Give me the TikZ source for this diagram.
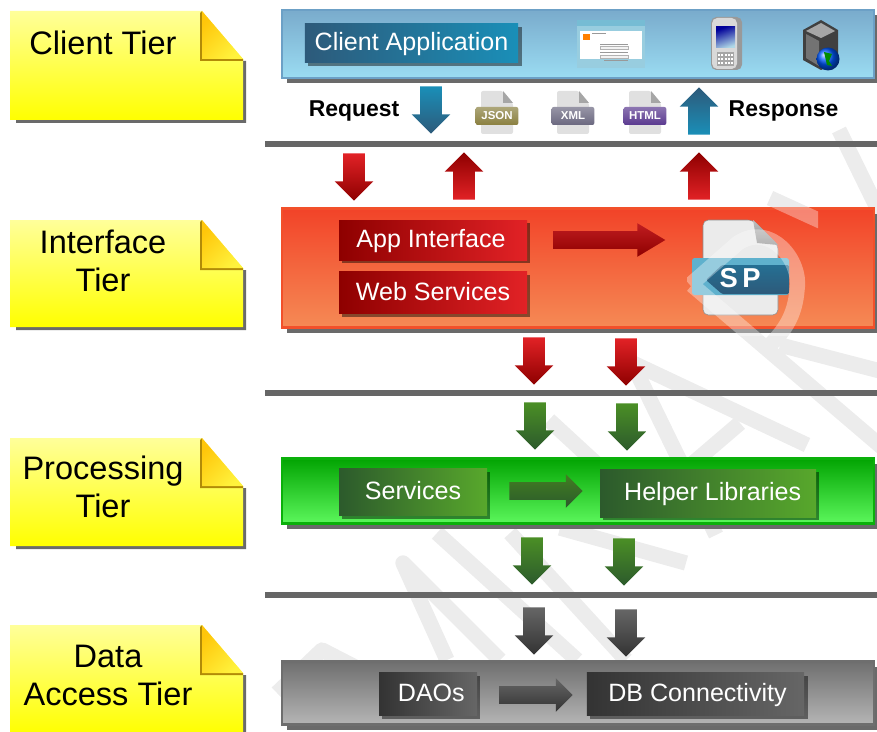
\documentclass[tikz,border=0pt]{standalone}
\usepackage{fontspec}
\setmainfont{Liberation Sans}
\usetikzlibrary{arrows.meta,shapes.arrows,shadows}
\tikzset {>=Stealth}

\definecolor{notelight}{HTML}{FFFF9A}
\definecolor{notemid}{HTML}{FFFF40}
\definecolor{foldgold}{HTML}{FFC60A}
\definecolor{foldpale}{HTML}{FFF23C}
\definecolor{markgray}{HTML}{ECECEC}
\definecolor{rulegray}{HTML}{666666}
\definecolor{shadegray}{HTML}{6A6A6A}
\definecolor{blueA}{HTML}{2D5A7A}
\definecolor{blueB}{HTML}{1A8FB8}
\definecolor{redA}{HTML}{8E0000}
\definecolor{redB}{HTML}{E22226}
\definecolor{greenA}{HTML}{2C5A2C}
\definecolor{greenB}{HTML}{58A82C}
\definecolor{darkA}{HTML}{333333}
\definecolor{darkB}{HTML}{666666}
\definecolor{clienttop}{HTML}{79ABCC}
\definecolor{clientlow}{HTML}{9BDCF2}
\definecolor{clientedge}{HTML}{6CA0C6}
\definecolor{ifacetop}{HTML}{F24328}
\definecolor{ifacelow}{HTML}{F58A55}
\definecolor{ifaceedge}{HTML}{F2502A}
\definecolor{proctop}{HTML}{02A402}
\definecolor{proclow}{HTML}{5CF75C}
\definecolor{procedge}{HTML}{0AB00A}
\definecolor{datatop}{HTML}{6F6F6F}
\definecolor{datalow}{HTML}{B5B5B5}
\definecolor{dataedge}{HTML}{6E6E6E}
\definecolor{jsoncol}{HTML}{8A8040}
\definecolor{xmlcol}{HTML}{6B6880}
\definecolor{htmlcol}{HTML}{5B3A90}

\tikzset{
  notetext/.style={font=\fontsize{24.4}{28.5}\selectfont,align=center,inner sep=0pt},
  tierband/.style={rectangle,draw=#1,line width=2.2pt,inner sep=0pt,
    general shadow={fill=shadegray,shadow xshift=3.8pt,shadow yshift=-4pt}},
  boxnode/.style={rectangle,inner sep=0pt,text=white,text height=16pt,text depth=4.1pt,
    font=\fontsize{18.8}{22}\selectfont,
    general shadow={fill=black,fill opacity=.45,shadow xshift=2.6pt,shadow yshift=-2.6pt}},
  blockdown/.style={single arrow,anchor=tail,shape border rotate=270,inner sep=7.9pt,
    minimum width=28.5pt,minimum height=35.5pt,single arrow head extend=6.4pt},
  blockup/.style={single arrow,anchor=tail,shape border rotate=90,inner sep=7.9pt,
    minimum width=28.5pt,minimum height=35.5pt,single arrow head extend=6.4pt},
  blockright/.style={single arrow,anchor=tail,inner sep=6.4pt,
    minimum width=24.5pt,single arrow head extend=6pt},
  replabel/.style={font=\bfseries\fontsize{17.2}{20}\selectfont,inner sep=0pt},
  filelabel/.style={font=\bfseries\fontsize{8.6}{10}\selectfont,text=white,inner sep=0pt},
  tierrule/.style={rulegray,line width=4.5pt},
  markstroke/.style={line width=11.5pt,line join=round},
}

\newcommand{\tiernote}[4]{
  \begin{scope}[shift={(0,#1)}]
    \fill[shadegray] (243,50) -- (246,50) -- (246,{#2+3}) -- (16,{#2+3}) -- (16,#2) -- (243,#2) -- cycle;
    \shade[top color=notelight,middle color=notemid,bottom color=yellow]
      (10,0) -- (202,0) -- (243,48) -- (243,#2) -- (10,#2) -- cycle;
    \fill[black!30!foldgold] (200,2) -- (202,0) -- (202,48) -- (243,48) -- (243,50) -- (200,50) -- cycle;
    \shade[left color=foldgold,right color=foldpale,shading angle=45]
      (202,0) -- (243,48) -- (202,48) -- cycle;
  \end{scope}
  \node[notetext] (#3) at #4;
}

\newcommand{\fileicon}[4]{
  \fill[black!12,rounded corners=1.5pt] (#1-16,91) -- (#1+6,91) -- (#1+16,103) -- (#1+16,134) -- (#1-16,134) -- cycle;
  \fill[black!35] (#1+6,91) -- (#1+16,103) -- (#1+6,103) -- cycle;
  \node[filelabel,rectangle,rounded corners=1.5pt,top color=#2!70!white,bottom color=#2,
    minimum width=32pt,minimum height=13.5pt] (#3) at (#1,116) {#4};
}

\newcommand{\markstrokes}{
  (839,130) -- (884,222)
  (770,198) -- (884,250)
  (690,285) -- (738,243) .. controls (770,222) and (802,260) .. (797,290) .. controls (795,315) and (785,330) .. (770,345)
  (692,285) -- (884,449)
  (780,345) -- (884,372)
}

\begin{document}
\begin{tikzpicture}[x=0.75pt,y=-0.75pt]
\useasboundingbox (0,0) rectangle (877,731);

\draw[markgray,markstroke] \markstrokes;
\draw[markgray,markstroke] (618,356) -- (807,445);
\draw[markgray,markstroke] (637,373) -- (716,535);
\draw[markgray,markstroke] (740,423) -- (650,500);
\draw[markgray,markstroke] (549,420) -- (600,467);
\draw[markgray,markstroke] (560,528) -- (686,563);
\draw[markgray,markstroke] (437,533) -- (577,660);
\draw[markgray,markstroke] (510,533) -- (626,660);
\draw[markgray,markstroke] (447,660) -- (403,563) -- (500,660);
\draw[markgray,markstroke] (277,693) -- (322,650) -- (357,668);

\tiernote{11}{109}{clientnote}{(103,43) {Client Tier}}
\tiernote{220}{107}{interfacenote}{(103,261) {Interface\\Tier}}
\tiernote{438}{108}{processnote}{(103,487) {Processing\\Tier}}
\tiernote{625}{109}{datanote}{(108,675) {Data\\Access Tier}}

\draw[tierrule] (265,144) -- (877,144);
\draw[tierrule] (265,393) -- (877,393);
\draw[tierrule] (265,595) -- (877,595);

\node[tierband=clientedge,top color=clienttop,bottom color=clientlow,minimum width=444pt,minimum height=51pt] (clientband) at (578,44) {};
\node[tierband=ifaceedge,top color=ifacetop,bottom color=ifacelow,minimum width=444pt,minimum height=89pt] (interfaceband) at (578,268) {};
\node[tierband=procedge,top color=proctop,bottom color=proclow,minimum width=444pt,minimum height=49pt] (processband) at (578,491) {};
\node[tierband=dataedge,top color=datatop,bottom color=datalow,minimum width=444pt,minimum height=47pt] (databand) at (578,693) {};

\node[boxnode,left color=blueA,right color=blueB,minimum width=160pt,minimum height=29pt] (clientapp) at (411.5,43) {Client Application};
\node[boxnode,left color=redA,right color=redB,minimum width=141pt,minimum height=30pt] (appiface) at (433,240) {App Interface\hspace*{3pt}};
\node[boxnode,left color=redA,right color=redB,minimum width=141pt,minimum height=31pt] (webserv) at (433,292.5) {Web Services};
\node[boxnode,left color=greenA,right color=greenB,minimum width=111pt,minimum height=35pt] (services) at (413,492) {Services};
\node[boxnode,left color=greenA,right color=greenB,minimum width=162pt,minimum height=36pt] (helperlibs) at (708,493) {\hspace*{7pt}Helper Libraries};
\node[boxnode,left color=darkA,right color=darkB,minimum width=73.5pt,minimum height=32pt] (daos) at (428,694) {\hspace*{5pt}DAOs};
\node[boxnode,left color=darkA,right color=darkB,minimum width=163pt,minimum height=32pt] (dbconn) at (695.5,694) {\hspace*{3pt}DB Connectivity};

\node[replabel] (request) at (354,111) {Request};
\node[replabel] (response) at (783.5,111) {Response};

\node[blockdown,top color=blueB,bottom color=blueA] (reqarrow) at (431,86) {};
\node[blockup,top color=blueA,bottom color=blueB] (resparrow) at (699,135) {};
\fileicon{497}{jsoncol}{jsonlabel}{JSON}
\fileicon{573}{xmlcol}{xmllabel}{XML}
\fileicon{645}{htmlcol}{htmllabel}{HTML}

\node[blockdown,top color=redB,bottom color=redA] (reddowna) at (354,153) {};
\node[blockup,top color=redA,bottom color=redB] (redupa) at (464,200) {};
\node[blockup,top color=redA,bottom color=redB] (redupb) at (699,200) {};
\node[blockdown,top color=redB,bottom color=redA] (reddownb) at (534,337) {};
\node[blockdown,top color=redB,bottom color=redA] (reddownc) at (626,338) {};
\node[blockdown,top color=greenB!85!black,bottom color=greenA] (greendowna) at (535,402) {};
\node[blockdown,top color=greenB!85!black,bottom color=greenA] (greendownb) at (627,403) {};
\node[blockdown,top color=greenB!85!black,bottom color=greenA] (greendownc) at (532,537) {};
\node[blockdown,top color=greenB!85!black,bottom color=greenA] (greendownd) at (624,538) {};
\node[blockdown,top color=darkB,bottom color=darkA] (darkdowna) at (534,607) {};
\node[blockdown,top color=darkB,bottom color=darkA] (darkdownb) at (626,609) {};

\node[blockright,minimum height=84pt,single arrow tip angle=62,top color=redB!85!black,bottom color=redA] (redright) at (553,240) {};
\node[blockright,minimum height=55pt,top color=greenB!75!black,bottom color=greenA] (greenright) at (509,491) {};
\node[blockright,minimum height=55pt,top color=darkB,bottom color=darkA] (darkright) at (499,695) {};

\fill[black!8,draw=black!45,line width=.4pt,rounded corners=4pt] (703,220) -- (753,220) -- (778,245) -- (778,315) -- (703,315) -- cycle;
\shade[top color=black!25,bottom color=black!45] (753,220) -- (778,245) -- (757,243) -- cycle;
\fill[blueB!70!white,rounded corners=2pt] (692,258) rectangle (789,295);
\shade[top color=blueA!60!blueB,bottom color=blueA,rounded corners=1pt] (706,280) -- (722,265) -- (789,265) -- (789,294) -- (722,294) -- cycle;
\node[text=white,font=\bfseries\fontsize{20.5}{24}\selectfont,inner sep=0pt] (splabel) at (740,278) {S\,P};

\fill[blueB!45!white] (577,20) rectangle (645,68);
\fill[white] (580,31) rectangle (642,59);
\fill[blueB!60!white] (577,20) rectangle (645,26);
\fill[orange] (583,34) rectangle (590,40);
\draw[black!40,line width=.5pt] (592,33) -- (606,33) (600,44) -- (628,44) (600,52) -- (628,52) (604,60) -- (628,60);
\draw[black!30,fill=black!5,line width=.3pt] (600,46) rectangle (628,49) (600,55) rectangle (628,58);

\fill[black!40,rounded corners=4pt] (711,17) rectangle (742,70);
\fill[black!15,rounded corners=4pt] (712,18) rectangle (737,69);
\shade[top color=blue!60!black,bottom color=blueB!35!white,shading angle=20] (716,27) rectangle (735,48);
\fill[black!35] (717,52) rectangle (734,66);
\foreach \keyrow in {55,59,63}
  \draw[white,line width=1.2pt,dash pattern=on 1.5pt off 1pt] (718,\keyrow) -- (733,\keyrow);

\fill[black!75] (821,20) -- (838,30) -- (838,62) -- (821,70) -- (803,60) -- (803,30) -- cycle;
\fill[black!35] (821,23) -- (835,31) -- (821,38) -- (806,31) -- cycle;
\fill[black!55] (806,34) -- (819,41) -- (819,66) -- (806,58) -- cycle;
\shade[ball color=blue!65!cyan] (828,59) circle (11.5);
\fill[green!55!black] (824,52) -- (832,54) -- (829,61) -- (832,66) -- (827,65) -- cycle;

\begin{scope}
\clip (687,207) rectangle (818,335);
\draw[white,opacity=.35,markstroke] \markstrokes;
\end{scope}
\end{tikzpicture}
\end{document}
